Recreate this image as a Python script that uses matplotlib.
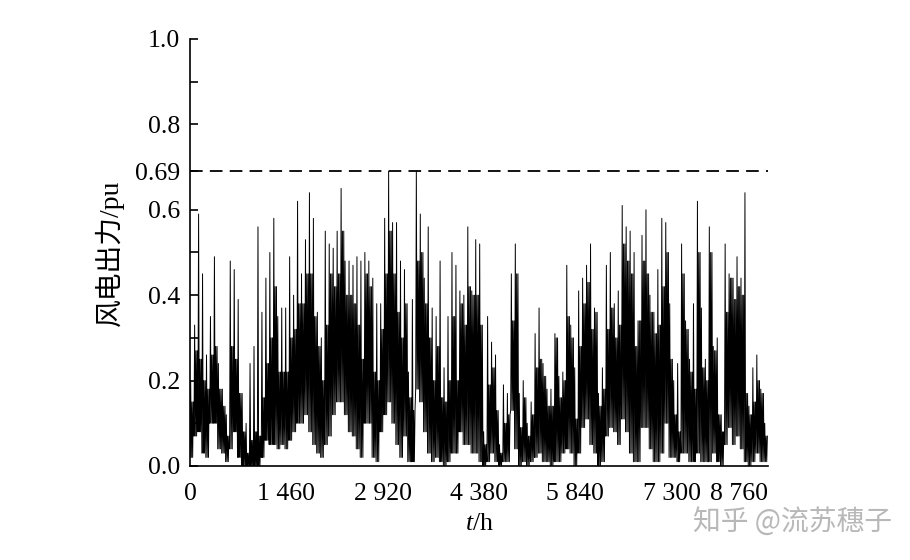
import matplotlib
matplotlib.use("Agg")
import matplotlib.pyplot as plt
import numpy as np

plt.rcParams['font.family'] = ['Liberation Serif', 'Noto Sans CJK SC']
plt.rcParams['mathtext.fontset'] = 'custom'
plt.rcParams['mathtext.it'] = 'Liberation Serif:italic'
plt.rcParams['mathtext.rm'] = 'Liberation Serif'

# wind power output, one entry per 60 h block (146 blocks = 8760 h)
# peak: tallest spike in the block, core_hi / core_lo: top and bottom of the dense black band
peak = [0.20, 0.33, 0.59, 0.45, 0.26, 0.35, 0.49, 0.24, 0.18, 0.12,
        0.48, 0.46, 0.39, 0.17, 0.10, 0.24, 0.28, 0.56, 0.36, 0.44,
        0.50, 0.58, 0.35, 0.37, 0.37, 0.49, 0.40, 0.62, 0.45, 0.53,
        0.64, 0.58, 0.36, 0.30, 0.55, 0.52, 0.51, 0.55, 0.65, 0.48,
        0.48, 0.47, 0.49, 0.48, 0.50, 0.48, 0.44, 0.38, 0.38, 0.58,
        0.69, 0.57, 0.57, 0.48, 0.46, 0.22, 0.39, 0.69, 0.59, 0.44,
        0.56, 0.37, 0.35, 0.48, 0.23, 0.35, 0.50, 0.47, 0.41, 0.40,
        0.56, 0.41, 0.53, 0.52, 0.08, 0.35, 0.29, 0.26, 0.05, 0.19,
        0.17, 0.45, 0.52, 0.17, 0.20, 0.10, 0.15, 0.31, 0.37, 0.24,
        0.18, 0.18, 0.31, 0.21, 0.22, 0.47, 0.33, 0.23, 0.41, 0.44,
        0.47, 0.52, 0.37, 0.17, 0.23, 0.47, 0.50, 0.38, 0.41, 0.61,
        0.56, 0.55, 0.50, 0.34, 0.54, 0.60, 0.40, 0.36, 0.46, 0.58,
        0.57, 0.38, 0.20, 0.24, 0.52, 0.34, 0.25, 0.38, 0.62, 0.37,
        0.25, 0.56, 0.28, 0.30, 0.12, 0.52, 0.45, 0.44, 0.49, 0.44,
        0.64, 0.14, 0.23, 0.26, 0.18, 0.10]
core_hi = [0.15, 0.27, 0.25, 0.20, 0.18, 0.26, 0.28, 0.18, 0.14, 0.07,
           0.28, 0.25, 0.17, 0.08, 0.03, 0.06, 0.08, 0.07, 0.16, 0.24,
           0.30, 0.42, 0.22, 0.22, 0.22, 0.30, 0.32, 0.38, 0.38, 0.45,
           0.45, 0.35, 0.28, 0.20, 0.33, 0.45, 0.42, 0.45, 0.55, 0.40,
           0.40, 0.38, 0.33, 0.25, 0.45, 0.42, 0.22, 0.20, 0.32, 0.45,
           0.55, 0.45, 0.36, 0.30, 0.38, 0.16, 0.13, 0.48, 0.50, 0.38,
           0.30, 0.20, 0.28, 0.16, 0.15, 0.20, 0.35, 0.20, 0.38, 0.33,
           0.42, 0.40, 0.40, 0.33, 0.05, 0.19, 0.23, 0.13, 0.03, 0.10,
           0.12, 0.34, 0.45, 0.09, 0.16, 0.07, 0.12, 0.23, 0.25, 0.21,
           0.14, 0.14, 0.30, 0.16, 0.20, 0.35, 0.30, 0.11, 0.28, 0.38,
           0.43, 0.32, 0.36, 0.14, 0.18, 0.32, 0.37, 0.30, 0.33, 0.52,
           0.48, 0.45, 0.28, 0.34, 0.48, 0.45, 0.36, 0.31, 0.33, 0.42,
           0.50, 0.25, 0.12, 0.08, 0.45, 0.32, 0.22, 0.18, 0.50, 0.23,
           0.20, 0.50, 0.27, 0.12, 0.08, 0.36, 0.44, 0.39, 0.42, 0.40,
           0.17, 0.12, 0.15, 0.20, 0.17, 0.07]
core_lo = [0.02, 0.07, 0.08, 0.03, 0.02, 0.10, 0.10, 0.04, 0.03, 0.01,
           0.04, 0.08, 0.02, 0.00, 0.00, 0.00, 0.00, 0.00, 0.02, 0.06,
           0.05, 0.05, 0.04, 0.05, 0.04, 0.06, 0.08, 0.10, 0.10, 0.12,
           0.08, 0.05, 0.03, 0.02, 0.05, 0.07, 0.12, 0.15, 0.15, 0.12,
           0.08, 0.07, 0.04, 0.02, 0.10, 0.10, 0.02, 0.01, 0.08, 0.12,
           0.15, 0.10, 0.05, 0.02, 0.07, 0.01, 0.01, 0.18, 0.15, 0.08,
           0.03, 0.01, 0.02, 0.01, 0.00, 0.01, 0.03, 0.03, 0.08, 0.05,
           0.05, 0.03, 0.03, 0.01, 0.00, 0.01, 0.03, 0.01, 0.00, 0.01,
           0.01, 0.13, 0.04, 0.00, 0.01, 0.00, 0.01, 0.02, 0.03, 0.01,
           0.01, 0.00, 0.01, 0.01, 0.03, 0.04, 0.03, 0.00, 0.03, 0.09,
           0.11, 0.05, 0.03, 0.00, 0.01, 0.07, 0.09, 0.08, 0.05, 0.11,
           0.08, 0.03, 0.01, 0.01, 0.09, 0.09, 0.04, 0.01, 0.01, 0.03,
           0.10, 0.02, 0.02, 0.01, 0.03, 0.03, 0.01, 0.01, 0.03, 0.01,
           0.01, 0.01, 0.03, 0.01, 0.00, 0.05, 0.09, 0.05, 0.07, 0.04,
           0.01, 0.00, 0.01, 0.03, 0.01, 0.01]

block_hours = 60
xtick_vals = [0, 1460, 2920, 4380, 5840, 7300, 8760]
xtick_labels = ["0", "1 460", "2 920", "4 380", "5 840", "7 300", "8 760"]
ytick_vals = [0.0, 0.2, 0.4, 0.6, 0.69, 0.8, 1.0]
ytick_labels = ["0.0", "0.2", "0.4", "0.6", "0.69", "0.8", "1.0"]
limit = 0.69

# expand each block into a zig-zag: low, spike, low, band top, low, band top
t = []
p = []
for i in range(len(peak)):
    h0 = i * block_hours
    seq = [core_lo[i], peak[i], core_lo[i], core_hi[i], core_lo[i], core_hi[i]]
    for j, v in enumerate(seq):
        t.append(h0 + j * block_hours / len(seq))
        p.append(v)
t = np.array(t)
p = np.array(p)

fig = plt.figure(figsize=(9.1, 5.6), dpi=100)
ax = fig.add_axes([0.2088, 0.1679, 0.6352, 0.7625])

ax.plot(t, p, color="black", lw=0.7)
ax.axhline(limit, color="black", lw=1.3, dashes=(7, 4))

ax.set_xlim(0, 8760)
ax.set_ylim(0, 1.0)
ax.set_xticks(xtick_vals)
ax.set_xticklabels(xtick_labels)
ax.xaxis.get_ticklabels()[-1].set_horizontalalignment("right")
ax.set_yticks(ytick_vals)
ax.set_yticklabels(ytick_labels)
ax.set_yticks([0.1, 0.3, 0.5, 0.9], minor=True)

ax.tick_params(axis="x", length=0, pad=12, labelsize=18.5)
ax.tick_params(axis="y", which="both", direction="in", length=6, width=1.2,
               pad=7, labelsize=18.5)

for s in ["top", "right"]:
    ax.spines[s].set_visible(False)
ax.spines["left"].set_linewidth(1.2)
ax.spines["bottom"].set_linewidth(1.2)

ax.set_xlabel(r"$t$/h", fontsize=18.5, labelpad=6)
ax.set_ylabel("风电出力/pu", fontsize=20, labelpad=8)

fig.text(0.762, 0.068, "知乎 @流苏穗子", color="#b8b8b8", fontsize=20,
         family=["Noto Sans CJK SC", "DejaVu Sans"], va="center")

fig.savefig("out.png", dpi=100)
